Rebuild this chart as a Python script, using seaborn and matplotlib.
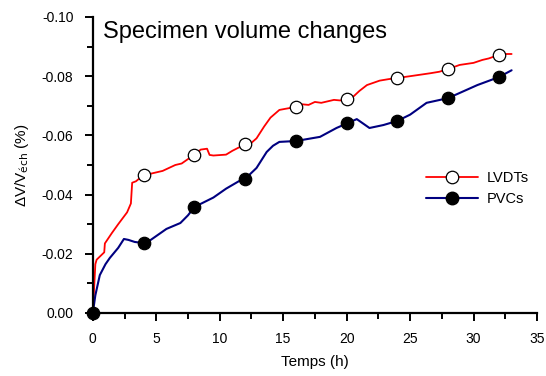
import numpy as np
import pandas as pd
import matplotlib
matplotlib.use("Agg")
import matplotlib.pyplot as plt
from matplotlib.lines import Line2D
from matplotlib.ticker import FuncFormatter, FormatStrFormatter, MultipleLocator
import seaborn as sns

# LVDT curve (red)
lvdt_t = [0, 0.2, 0.3, 0.9, 0.95, 1.5, 2.0, 2.7, 2.9, 3.0, 3.1, 3.4, 4.0, 4.5,
          5.0, 5.5, 6.0, 6.5, 7.0, 7.5, 8.0, 8.5, 9.0, 9.2, 9.5, 10.5, 11.0,
          12.0, 12.5, 12.9, 13.5, 14.0, 14.7, 15.2, 16.0, 16.5, 17.0, 17.5,
          18.0, 18.5, 19.0, 19.5, 20.0, 20.5, 21.0, 21.6, 22.6, 23.3, 24.0,
          25.0, 26.6, 27.3, 28.0, 28.9, 30.0, 30.7, 31.2, 32.0, 32.5, 33.0]
lvdt_v = [0, -0.0165, -0.018, -0.0205, -0.0235, -0.027, -0.030, -0.034,
          -0.036, -0.037, -0.044, -0.0445, -0.0466, -0.047, -0.0475, -0.048,
          -0.049, -0.050, -0.0505, -0.052, -0.0534, -0.0552, -0.0555, -0.0534,
          -0.0532, -0.0535, -0.0548, -0.057, -0.0575, -0.059, -0.063, -0.066,
          -0.0686, -0.069, -0.0696, -0.0705, -0.0703, -0.0713, -0.071,
          -0.0715, -0.072, -0.0718, -0.0725, -0.073, -0.075, -0.077, -0.0785,
          -0.079, -0.0794, -0.080, -0.081, -0.0815, -0.0824, -0.0838, -0.0845,
          -0.0855, -0.086, -0.0872, -0.0875, -0.0875]

# PVC curve (navy)
pvc_t = [0, 0.2, 0.55, 1.0, 1.34, 2.0, 2.45, 2.8, 3.3, 4.0, 4.5, 5.0, 5.8,
         6.9, 7.5, 8.0, 9.5, 10.5, 11.5, 12.0, 12.9, 13.7, 14.2, 14.7, 16.0,
         17.9, 19.2, 20.0, 20.8, 21.3, 21.8, 22.9, 24.0, 25.0, 26.3, 28.0,
         30.3, 32.0, 33.0]
pvc_v = [0, -0.006, -0.0128, -0.0165, -0.0186, -0.022, -0.025, -0.0247,
         -0.024, -0.0236, -0.0245, -0.026, -0.0284, -0.0304, -0.033, -0.0358,
         -0.039, -0.042, -0.0445, -0.0453, -0.049, -0.0544, -0.0565, -0.0578,
         -0.0581, -0.0595, -0.0625, -0.064, -0.0655, -0.064, -0.0625, -0.0635,
         -0.0649, -0.067, -0.071, -0.0726, -0.077, -0.0797, -0.082]

# marker positions
lvdt_mk_t = [4, 8, 12, 16, 20, 24, 28, 32]
lvdt_mk_v = [-0.0466, -0.0534, -0.0571, -0.0696, -0.0723, -0.0794, -0.0824, -0.0872]
pvc_mk_t = [0, 4, 8, 12, 16, 20, 24, 28, 32]
pvc_mk_v = [0, -0.0236, -0.0358, -0.0453, -0.0581, -0.0642, -0.0649, -0.0726, -0.0797]

RED = "#ff0000"
NAVY = "#000080"

sns.set_style("ticks")
plt.rcParams["font.family"] = ["Liberation Sans", "DejaVu Sans"]
plt.rcParams["axes.unicode_minus"] = False
for key in ["text.color", "axes.labelcolor", "xtick.color", "ytick.color", "axes.edgecolor"]:
    plt.rcParams[key] = "black"

fig = plt.figure(figsize=(5.46, 3.76), dpi=100)
ax = fig.add_axes([0.170, 0.1676, 0.8135, 0.7872])

lvdt = pd.DataFrame({"t": lvdt_t, "v": lvdt_v})
pvc = pd.DataFrame({"t": pvc_t, "v": pvc_v})
sns.lineplot(data=lvdt, x="t", y="v", color=RED, lw=1.3, sort=False,
             estimator=None, ax=ax, zorder=2)
sns.lineplot(data=pvc, x="t", y="v", color=NAVY, lw=1.5, sort=False,
             estimator=None, ax=ax, zorder=2)
sns.scatterplot(x=lvdt_mk_t, y=lvdt_mk_v, s=80, color="white",
                edgecolor="black", linewidth=0.9, ax=ax, zorder=3)
sns.scatterplot(x=pvc_mk_t, y=pvc_mk_v, s=80, color="black",
                edgecolor="black", linewidth=0.9, ax=ax, zorder=4)

ax.set_xlim(0, 35)
ax.set_ylim(0, -0.10)
ax.xaxis.set_major_locator(MultipleLocator(5))
ax.xaxis.set_minor_locator(MultipleLocator(2.5))
ax.yaxis.set_major_locator(MultipleLocator(0.02))
ax.yaxis.set_minor_locator(MultipleLocator(0.01))
ax.yaxis.set_major_formatter(FuncFormatter(lambda v, p: "%.2f" % (v + 0.0 if abs(v) > 1e-9 else 0.0)))
ax.xaxis.set_major_formatter(FormatStrFormatter("%d"))
for c in ax.collections:
    c.set_clip_on(False)

sns.despine(ax=ax)
for s in ["left", "bottom"]:
    ax.spines[s].set_linewidth(1.6)
    ax.spines[s].set_color("black")
ax.tick_params(which="major", length=6, width=1.4, labelsize=10, pad=8, color="black")
ax.tick_params(which="minor", length=4, width=1.4, color="black")

ax.set_xlabel("Temps (h)", fontsize=11, labelpad=6)
ax.set_ylabel("ΔV/V$_{\\mathrm{éch}}$ (%)", fontsize=11, labelpad=8)

ax.text(0.024, 0.985, "Specimen volume changes", transform=ax.transAxes,
        fontsize=17, ha="left", va="top")

handles = [
    Line2D([], [], color=RED, lw=1.3, marker="o", markersize=9,
           markerfacecolor="white", markeredgecolor="black", markeredgewidth=0.9),
    Line2D([], [], color=NAVY, lw=1.5, marker="o", markersize=9,
           markerfacecolor="black", markeredgecolor="black"),
]
ax.legend(handles, ["LVDTs", "PVCs"], loc="center left",
          bbox_to_anchor=(0.72, 0.42), frameon=False, fontsize=10.5,
          handlelength=3.6, handletextpad=0.6, labelspacing=0.45)

fig.savefig("out.png", dpi=100)
